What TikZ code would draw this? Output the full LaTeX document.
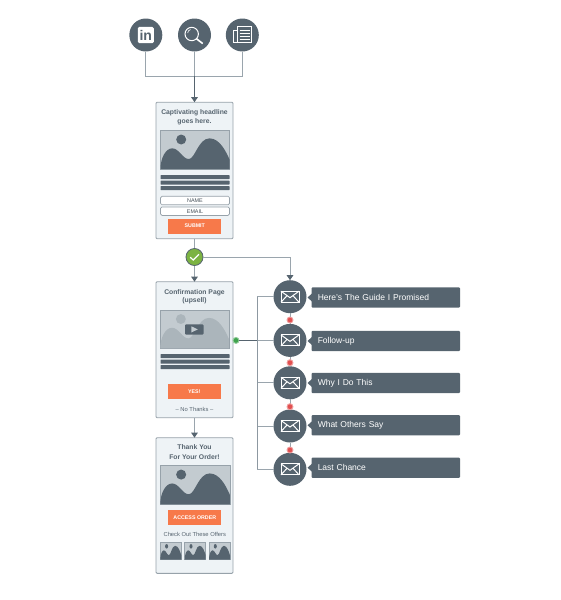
\documentclass[tikz,border=0pt]{standalone}
\usepackage{fontspec}
\setmainfont{Liberation Sans}
\usetikzlibrary{arrows.meta}
\definecolor{slate}{HTML}{56646F}
\definecolor{wire}{HTML}{9AA5AD}
\definecolor{paper}{HTML}{EEF3F6}
\definecolor{rim}{HTML}{97A2AA}
\definecolor{sky}{HTML}{C3CBD0}
\definecolor{hill}{HTML}{ABB5BB}
\definecolor{cta}{HTML}{F7794A}
\definecolor{okgreen}{HTML}{7CB342}
\definecolor{waitred}{HTML}{E25050}
\definecolor{yesgreen}{HTML}{3FA34D}
\tikzset{
  page/.style={draw=rim, fill=paper, line width=0.9pt, rounded corners=1pt, minimum width=77, inner sep=0, outer sep=0},
  roundel/.style={circle, fill=slate, minimum size=33, inner sep=0, outer sep=0},
  wireline/.style={draw=wire, line width=1pt},
  arrowline/.style={wireline, -{Triangle[length=5pt,width=6.5pt,color=slate]}},
  headtxt/.style={align=center, text=slate, inner sep=0, font=\fontsize{6.8}{9.2}\selectfont\bfseries},
  tinytxt/.style={text=slate, inner sep=0, font=\fontsize{5.8}{7}\selectfont},
  btn/.style={fill=cta, text=white, minimum width=53, minimum height=15, inner sep=0, font=\fontsize{5.3}{6}\selectfont\bfseries},
  field/.style={draw=rim, fill=white, line width=0.7pt, rounded corners=1.5pt, minimum width=69, minimum height=8.5, inner sep=0, text=slate!80!black, font=\fontsize{5.4}{6}\selectfont},
  mailtag/.style={fill=slate, rounded corners=1pt, minimum width=148.5, minimum height=20.3, inner sep=0, outer sep=0, text=white, text width=136, align=left, font=\fontsize{8.5}{10}\selectfont},
  flagdot/.style={circle, draw=#1!55, fill=#1, line width=0.9pt, minimum size=6, inner sep=0},
}
% x, y, width, height, hill colour
\newcommand{\hillpic}[5]{
  \begin{scope}[shift={(#1,#2)}, x=#3pt, y=-#4pt]
    \fill[sky] (0,0) rectangle (1,1);
    \draw[rim, line width=0.6pt] (0,0) rectangle (1,1);
    \fill[#5] (0,1) .. controls (0,0.7) and (0.08,0.46) .. (0.17,0.46)
      .. controls (0.27,0.46) and (0.32,0.74) .. (0.41,0.74)
      .. controls (0.5,0.74) and (0.55,0.2) .. (0.71,0.2)
      .. controls (0.86,0.2) and (0.95,0.55) .. (1,0.75) -- (1,1) -- cycle;
    \fill[#5] (0.3,0.23) ellipse ({0.145/2} and {0.26/2});
  \end{scope}
}
\newcommand{\threebars}[1]{
  \foreach \k in {0,5.6,11.2} {
    \fill[slate, rounded corners=0.5pt] (160.5,#1+\k-2) rectangle (229.5,#1+\k+2);
  }
}
\begin{document}
\begin{tikzpicture}[x=1pt, y=-1pt]
\useasboundingbox (0,0) rectangle (560,600);

% traffic sources
\node[roundel] (linkedin) at (145.8,35) {};
\node[roundel] (search) at (194.5,35) {};
\node[roundel] (news) at (242.3,35) {};
\coordinate (join) at (194.5,76);

\fill[white, rounded corners=1.5pt] (137.8,26.8) rectangle (153.8,43.2);
\node[inner sep=0, text=slate, font=\fontsize{14}{14}\selectfont\bfseries] (intxt) at (145.8,35) {in};
\draw[white, line width=1pt] (191.7,34) circle (6.7);
\draw[white, line width=0.6pt] (187.7,33) arc (180:260:3.5);
\draw[white, line width=1.6pt] (196.6,38.8) -- (202.7,43.6);
\draw[white, line width=1pt] (237.7,26.9) rectangle (251.7,42.3);
\draw[white, line width=1pt] (237.7,30) -- (233.5,30) -- (233.5,42.3) -- (237.7,42.3);
\foreach \y in {30.5,33.5,36.5,39.5} {
  \draw[white, line width=1pt] (239.5,\y) -- (250,\y);
}

% pages
\node[page, minimum height=136.5, anchor=north] (optin) at (194.5,102.2) {};
\node[page, minimum height=136, anchor=north] (upsell) at (194.5,281.7) {};
\node[page, minimum height=135.6, anchor=north] (thanks) at (194.5,437.7) {};

% first page
\node[headtxt] (optinhead) at (194.5,117) {Captivating headline\\goes here.};
\hillpic{160.5}{130.7}{69}{38.3}{slate}
\threebars{177}
\node[field] (namefield) at (195,200.5) {NAME};
\node[field] (emailfield) at (195,211.2) {EMAIL};
\node[btn] (submit) at (194.8,226) {SUBMIT};

% second page
\node[headtxt, font=\fontsize{6.8}{8.4}\selectfont\bfseries] (upsellhead) at (194.5,296.6) {Confirmation Page\\(upsell)};
\hillpic{160.3}{310.3}{68.5}{38}{hill}
\fill[slate, rounded corners=1pt] (185,324.3) rectangle (203.5,334.6);
\fill[sky] (191.3,326.3) -- (197.8,329.4) -- (191.3,332.5) -- cycle;
\threebars{356}
\node[btn] (yes) at (194.3,391.8) {YES!};
\node[tinytxt] (nothanks) at (194.5,409.7) {– No Thanks –};

% third page
\node[headtxt] (thankshead) at (194.5,452) {Thank You\\For Your Order!};
\hillpic{160.3}{465.7}{69.5}{38.6}{slate}
\node[btn] (access) at (194.8,517.3) {ACCESS ORDER};
\node[tinytxt] (offers) at (194.8,534) {Check Out These Offers};
\foreach \x in {160.3,184.7,209} {
  \hillpic{\x}{542.3}{21}{17.4}{slate}
}

% emails
\foreach \i/\y/\ly/\txt in {1/296.7/297.5/Here's The Guide I Promised, 2/340.4/341/Follow-up, 3/382.8/383/Why I Do This, 4/426/425.3/What Others Say, 5/469.3/467.7/Last Chance} {
  \node[roundel] (mail\i) at (290,\y) {};
  \draw[white, line width=1pt] (281,\y-5.5) rectangle (299,\y+5.5);
  \draw[white, line width=1pt] (281,\y-5.5) -- (290,\y+1) -- (299,\y-5.5);
  \draw[white, line width=1pt] (281,\y+5.5) -- (287,\y-1);
  \draw[white, line width=1pt] (299,\y+5.5) -- (293,\y-1);
  \node[mailtag, anchor=west] (tag\i) at (311.5,\ly) {\txt};
  \fill[slate] (tag\i.west) ++(0.5,-4) -- ++(-4.5,4) -- ++(4.5,4) -- cycle;
}

% connectors
\draw[wireline] (linkedin) |- (join);
\draw[wireline] (news) |- (join);
\draw[wireline] (search) -- (join);
\draw[arrowline, draw=slate] (join) -- (optin);

\node[circle, draw=slate, fill=okgreen, line width=0.8pt, minimum size=17, inner sep=0] (check) at (194.5,257) {};
\draw[white, line width=1.2pt] (190.2,257.2) -- (193.2,260) -- (199,254.3);
\draw[wireline] (optin) -- (check);
\draw[arrowline] (check) -- (upsell);
\draw[arrowline] (check) -| (mail1);
\draw[arrowline] (upsell) -- (thanks);

% email chain
\node[flagdot=yesgreen] (yesdot) at (236,340.4) {};
\coordinate (bus) at (257.3,340.4);
\draw[slate, line width=0.9pt] (yesdot) -- (bus);
\draw[wireline] (bus) -- (mail2);
\foreach \i in {1,3,4,5} {
  \draw[wireline] (bus |- mail\i) -- (mail\i);
}
\draw[wire!80!slate, line width=0.9pt] (bus |- mail1) -- (bus |- mail5);
\foreach \a/\b/\y in {1/2/320, 2/3/362.7, 3/4/406.7, 4/5/450} {
  \draw[wireline] (mail\a) -- (mail\b);
  \node[flagdot=waitred] (wait\a) at (290,\y) {};
}
\end{tikzpicture}
\end{document}
